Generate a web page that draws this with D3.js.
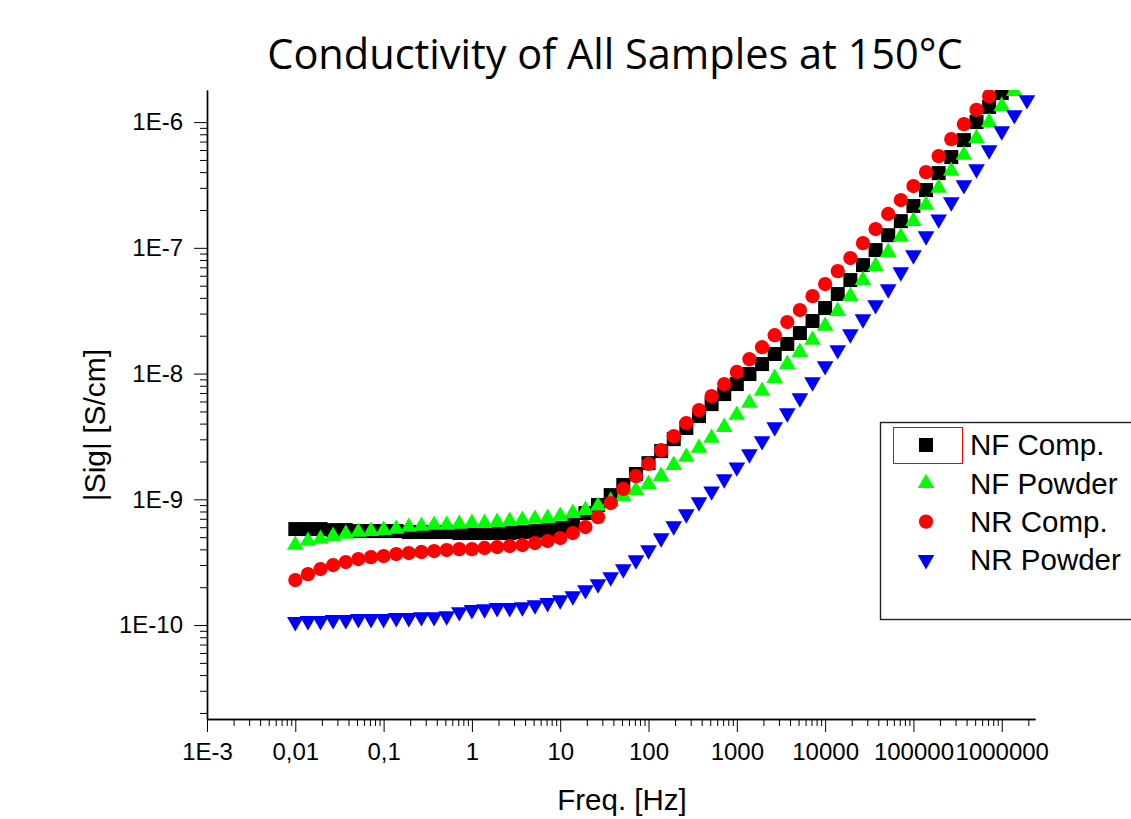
<!DOCTYPE html>
<html>
<head>
<meta charset="utf-8">
<script src="https://cdnjs.cloudflare.com/ajax/libs/d3/7.8.5/d3.min.js"></script>
<style>
  body { margin: 0; background: #fff; }
  svg { display: block; }
  .axis text { font-family: "Liberation Sans", Arial, sans-serif; font-size: 24px; fill: #000; }
  .axis path, .axis line { stroke: #000; }
</style>
</head>
<body>
<div id="container"></div>
<script>
// frequencies, 7 points per decade
const freq = [
  0.01, 0.0139, 0.0193, 0.0268, 0.0373, 0.0518, 0.072,
  0.1, 0.139, 0.193, 0.268, 0.373, 0.518, 0.72,
  1, 1.39, 1.93, 2.68, 3.73, 5.18, 7.2,
  10, 13.9, 19.3, 26.8, 37.3, 51.8, 72,
  100, 139, 193, 268, 373, 518, 720,
  1000, 1389, 1931, 2683, 3728, 5179, 7197,
  10000, 13895, 19307, 26827, 37276, 51795, 71969,
  100000, 138950, 193070, 268270, 372760, 517950, 719690,
  1000000, 1389500, 1930700
];

const nfComp = [
  5.8e-10, 5.8e-10, 5.8e-10, 5.69e-10, 5.69e-10, 5.59e-10, 5.59e-10,
  5.59e-10, 5.59e-10, 5.49e-10, 5.49e-10, 5.49e-10, 5.49e-10, 5.39e-10,
  5.39e-10, 5.39e-10, 5.39e-10, 5.39e-10, 5.49e-10, 5.59e-10, 5.69e-10,
  5.9e-10, 6.59e-10, 7.77e-10, 9.0e-10, 1.08e-9, 1.3e-9, 1.59e-9,
  1.94e-9, 2.42e-9, 3.01e-9, 3.69e-9, 4.59e-9, 5.72e-9, 6.87e-9,
  8.25e-9, 9.91e-9, 1.19e-8, 1.43e-8, 1.72e-8, 2.1e-8, 2.62e-8,
  3.32e-8, 4.29e-8, 5.54e-8, 7.29e-8, 9.6e-8, 1.26e-7, 1.63e-7,
  2.15e-7, 2.88e-7, 3.93e-7, 5.27e-7, 7.19e-7, 1.0e-6, 1.32e-6,
  1.7e-6, 2.2e-6, 2.84e-6
];

const nfPowder = [
  4.33e-10, 4.66e-10, 4.83e-10, 5.1e-10, 5.3e-10, 5.49e-10, 5.59e-10,
  5.69e-10, 5.8e-10, 6.02e-10, 6.13e-10, 6.24e-10, 6.24e-10, 6.36e-10,
  6.47e-10, 6.47e-10, 6.59e-10, 6.71e-10, 6.84e-10, 6.97e-10, 7.09e-10,
  7.36e-10, 7.77e-10, 8.21e-10, 8.84e-10, 9.68e-10, 1.06e-9, 1.18e-9,
  1.32e-9, 1.53e-9, 1.87e-9, 2.17e-9, 2.56e-9, 3.07e-9, 3.75e-9,
  4.68e-9, 5.83e-9, 7.26e-9, 9.21e-9, 1.19e-8, 1.48e-8, 1.85e-8,
  2.39e-8, 3.14e-8, 4.13e-8, 5.54e-8, 7.16e-8, 9.25e-8, 1.22e-7,
  1.63e-7, 2.19e-7, 2.99e-7, 4.08e-7, 5.47e-7, 7.46e-7, 1.0e-6,
  1.34e-6, 1.76e-6, 2.32e-6
];

const nrComp = [
  2.28e-10, 2.54e-10, 2.79e-10, 3.0e-10, 3.17e-10, 3.35e-10, 3.47e-10,
  3.54e-10, 3.67e-10, 3.74e-10, 3.81e-10, 3.88e-10, 3.95e-10, 4.02e-10,
  4.02e-10, 4.1e-10, 4.17e-10, 4.25e-10, 4.33e-10, 4.49e-10, 4.66e-10,
  4.92e-10, 5.39e-10, 6.02e-10, 7.22e-10, 9.34e-10, 1.21e-9, 1.53e-9,
  1.91e-9, 2.46e-9, 3.18e-9, 4.04e-9, 5.13e-9, 6.62e-9, 8.25e-9,
  1.03e-8, 1.3e-8, 1.62e-8, 2.02e-8, 2.57e-8, 3.2e-8, 4.13e-8,
  5.15e-8, 6.53e-8, 8.29e-8, 1.09e-7, 1.41e-7, 1.86e-7, 2.4e-7,
  3.1e-7, 4.0e-7, 5.36e-7, 7.32e-7, 9.64e-7, 1.25e-6, 1.61e-6,
  2.08e-6, 2.69e-6, 3.47e-6
];

const nrPowder = [
  1.06e-10, 1.08e-10, 1.08e-10, 1.1e-10, 1.1e-10, 1.12e-10, 1.12e-10,
  1.12e-10, 1.14e-10, 1.14e-10, 1.16e-10, 1.16e-10, 1.18e-10, 1.27e-10,
  1.32e-10, 1.34e-10, 1.37e-10, 1.37e-10, 1.39e-10, 1.44e-10, 1.5e-10,
  1.58e-10, 1.7e-10, 1.9e-10, 2.12e-10, 2.41e-10, 2.79e-10, 3.29e-10,
  3.95e-10, 4.92e-10, 6.13e-10, 7.63e-10, 9.51e-10, 1.16e-9, 1.45e-9,
  1.8e-9, 2.29e-9, 2.91e-9, 3.75e-9, 4.85e-9, 6.39e-9, 8.56e-9,
  1.15e-8, 1.54e-8, 2.06e-8, 2.71e-8, 3.51e-8, 4.7e-8, 6.41e-8,
  8.76e-8, 1.24e-7, 1.69e-7, 2.31e-7, 3.16e-7, 4.23e-7, 5.99e-7,
  8.48e-7, 1.14e-6, 1.5e-6
];

const seriesNames = ["NF Comp.", "NF Powder", "NR Comp.", "NR Powder"];
const seriesColors = ["#000000", "#00ff00", "#ff0000", "#0000ff"];

const xTickValues = [1e-3, 1e-2, 1e-1, 1, 10, 100, 1000, 1e4, 1e5, 1e6];
const xTickLabels = ["1E-3", "0,01", "0,1", "1", "10", "100", "1000", "10000", "100000", "1000000"];
const yTickValues = [1e-10, 1e-9, 1e-8, 1e-7, 1e-6];
const yTickLabels = ["1E-10", "1E-9", "1E-8", "1E-7", "1E-6"];

const width = 1131,
  height = 819;
const plot = { left: 207, right: 1035, top: 90, bottom: 719 };

const svg = d3
  .select("#container")
  .append("svg")
  .attr("width", width)
  .attr("height", height);

const xScale = d3
  .scaleLog()
  .domain([1e-3, 2.38e6])
  .range([plot.left, plot.right]);
const yScale = d3
  .scaleLog()
  .domain([1.79e-11, 1.8e-6])
  .range([plot.bottom, plot.top]);

const isPow10 = (v) => Math.abs(Math.log10(v) - Math.round(Math.log10(v))) < 1e-6;

// minor ticks first, then major ticks with labels
const xMinor = xScale.ticks(30).filter((v) => !isPow10(v));
const yMinor = yScale.ticks(30).filter((v) => !isPow10(v));

svg
  .append("g")
  .attr("class", "axis")
  .attr("transform", `translate(0, ${plot.bottom})`)
  .call(d3.axisBottom(xScale).tickValues(xMinor).tickSize(7).tickSizeOuter(0).tickFormat(""));
svg
  .append("g")
  .attr("class", "axis")
  .attr("transform", `translate(${plot.left}, 0)`)
  .call(d3.axisLeft(yScale).tickValues(yMinor).tickSize(7).tickSizeOuter(0).tickFormat(""));

const xAxis = svg
  .append("g")
  .attr("class", "axis")
  .attr("id", "x-axis")
  .attr("transform", `translate(0, ${plot.bottom})`)
  .call(
    d3
      .axisBottom(xScale)
      .tickValues(xTickValues)
      .tickSize(13)
      .tickPadding(11)
      .tickSizeOuter(0)
      .tickFormat((d, i) => xTickLabels[i])
  );
const yAxis = svg
  .append("g")
  .attr("class", "axis")
  .attr("id", "y-axis")
  .attr("transform", `translate(${plot.left}, 0)`)
  .call(
    d3
      .axisLeft(yScale)
      .tickValues(yTickValues)
      .tickSize(13)
      .tickPadding(11)
      .tickSizeOuter(0)
      .tickFormat((d, i) => yTickLabels[i])
  );
svg.selectAll(".axis .domain").attr("stroke-width", 1.4);

// title and axis titles
svg
  .append("text")
  .attr("x", 615)
  .attr("y", 69)
  .attr("text-anchor", "middle")
  .style("font-family", "'Open Sans', sans-serif")
  .style("font-size", "41.5px")
  .text("Conductivity of All Samples at 150°C");

svg
  .append("text")
  .attr("x", 622)
  .attr("y", 810)
  .attr("text-anchor", "middle")
  .style("font-family", "'Liberation Sans', Arial, sans-serif")
  .style("font-size", "29.5px")
  .text("Freq. [Hz]");

svg
  .append("text")
  .attr("transform", "translate(105, 425) rotate(-90)")
  .attr("text-anchor", "middle")
  .style("font-family", "'Liberation Sans', Arial, sans-serif")
  .style("font-size", "30px")
  .text("|Sig| [S/cm]");

// markers
const symbols = [
  d3.symbol().type(d3.symbolSquare).size(196),
  d3.symbol().type(d3.symbolTriangle).size(120),
  d3.symbol().type(d3.symbolCircle).size(160),
  d3.symbol().type(d3.symbolTriangle).size(120),
];
const rotations = [0, 0, 0, 180];
const seriesValues = [nfComp, nfPowder, nrComp, nrPowder];

svg
  .append("clipPath")
  .attr("id", "plot-clip")
  .append("rect")
  .attr("x", plot.left)
  .attr("y", plot.top)
  .attr("width", width - plot.left)
  .attr("height", plot.bottom - plot.top);

const marks = svg.append("g").attr("clip-path", "url(#plot-clip)");

seriesValues.forEach((values, s) => {
  marks
    .append("g")
    .attr("class", "series")
    .selectAll("path")
    .data(values.map((v, i) => ({ f: freq[i], v: v })))
    .enter()
    .append("path")
    .attr("d", symbols[s])
    .attr("transform", (d) => `translate(${xScale(d.f)}, ${yScale(d.v)}) rotate(${rotations[s]})`)
    .style("fill", seriesColors[s]);
});

// legend
const legend = svg.append("g").attr("id", "legend");
legend
  .append("rect")
  .attr("x", 880.5)
  .attr("y", 422.5)
  .attr("width", 270)
  .attr("height", 197)
  .style("fill", "#fff")
  .style("stroke", "#222")
  .style("stroke-width", 1.4);
legend
  .append("rect")
  .attr("x", 893.5)
  .attr("y", 427.5)
  .attr("width", 69)
  .attr("height", 36)
  .style("fill", "none")
  .style("stroke", "#ff0000")
  .style("stroke-width", 1);

const legendItem = legend
  .selectAll(".legend-item")
  .data(seriesNames)
  .enter()
  .append("g")
  .attr("class", "legend-item")
  .attr("transform", (d, i) => `translate(0, ${445 + i * 38.3})`);
legendItem
  .append("path")
  .attr("d", (d, i) => symbols[i]())
  .attr("transform", (d, i) => `translate(926, 0) rotate(${rotations[i]})`)
  .style("fill", (d, i) => seriesColors[i]);
legendItem
  .append("text")
  .attr("x", 970)
  .attr("dy", "0.35em")
  .style("font-family", "'Liberation Sans', Arial, sans-serif")
  .style("font-size", "29.5px")
  .text((d) => d);
</script>
</body>
</html>
